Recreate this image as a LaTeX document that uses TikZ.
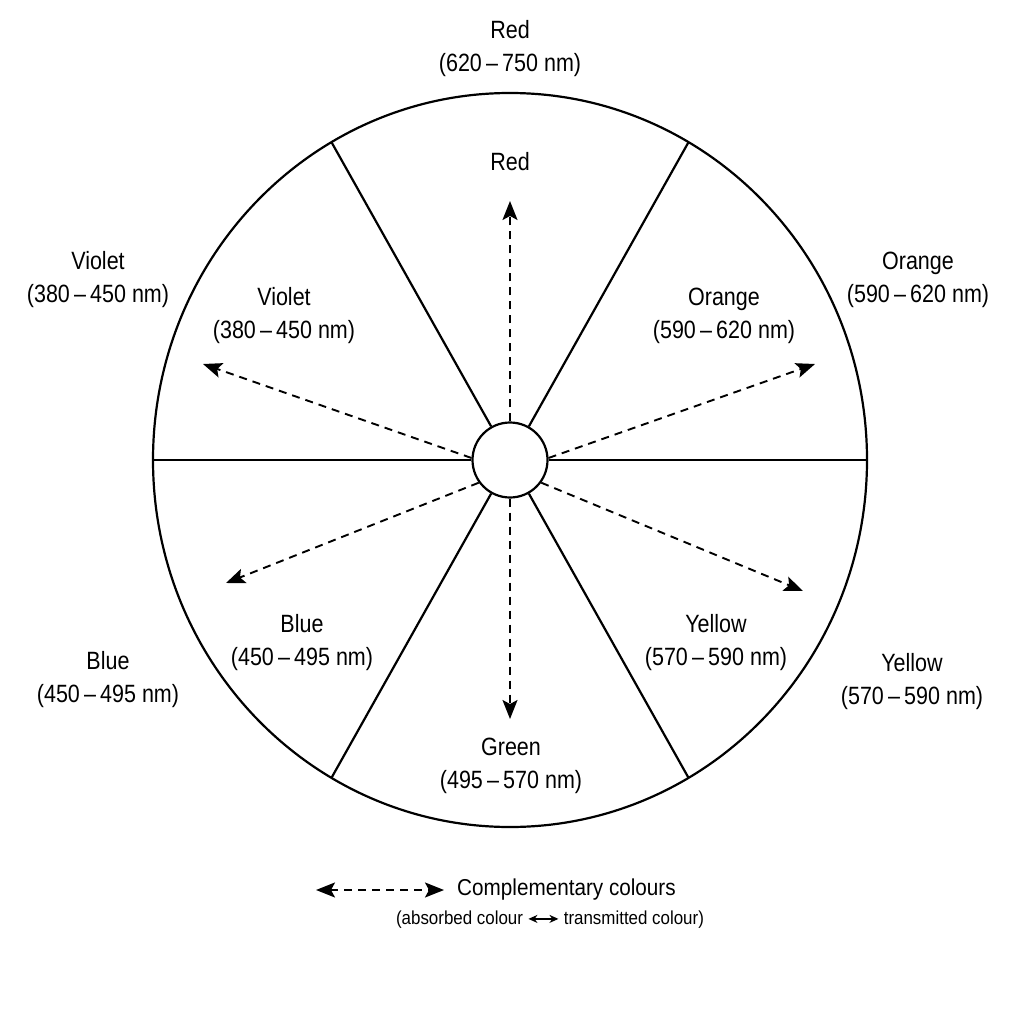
\documentclass[tikz,border=0pt]{standalone}
\usepackage{fontspec}
\setmainfont{Liberation Sans}[FakeStretch=0.86]
\newfontfamily\legendfont{Liberation Sans}[FakeStretch=0.9]
\usetikzlibrary{arrows.meta}
\tikzset{
  solidline/.style={line width=2.2pt, black},
  tipA/.tip={Stealth[length=19pt,width=15pt,inset=4pt]},
  dasharrow/.style={line width=1.9pt, dash pattern=on 8pt off 6pt, -tipA},
  dashboth/.style={line width=1.9pt, dash pattern=on 8pt off 6pt, tipA-tipA},
  lab/.style={align=center, inner sep=0pt, font=\fontsize{25}{33}\selectfont},
}
\begin{document}
\begin{tikzpicture}[x=1pt,y=-1pt]
\useasboundingbox (0,0) rectangle (1024,1024);
\fill[white] (0,0) rectangle (1024,1024);
% outer wheel
\draw[solidline] (510,460) ellipse [x radius=357, y radius=367];
\node[circle, draw, solidline, minimum size=75pt, inner sep=0pt] (hub) at (510,460) {};
\coordinate (o60) at (688.5,142.2);
\coordinate (o120) at (331.5,142.2);
\coordinate (o240) at (331.5,777.8);
\coordinate (o300) at (688.5,777.8);
\coordinate (o0) at (867,460);
\coordinate (o180) at (153,460);
\draw[solidline] (hub) -- (o60);
\draw[solidline] (hub) -- (o120);
\draw[solidline] (hub) -- (o240);
\draw[solidline] (hub) -- (o300);
\draw[solidline] (hub.east) -- (o0);
\draw[solidline] (hub.west) -- (o180);
% complementary arrows
\coordinate (tUp) at (510,201);
\coordinate (tDown) at (510,719);
\coordinate (tUL) at (203,364);
\coordinate (tUR) at (815,364);
\coordinate (tLL) at (226,583);
\coordinate (tLR) at (803,591);
\draw[dasharrow] (hub.north) -- (tUp);
\draw[dasharrow] (hub.south) -- (tDown);
\draw[dasharrow] (hub.177) -- (tUL);
\draw[dasharrow] (hub.3) -- (tUR);
\draw[dasharrow] (hub.216) -- (tLL);
\draw[dasharrow] (hub.324) -- (tLR);
% outer labels
\node[lab] (redO) at (510,49) {Red\\(620\,–\,750 nm)};
\node[lab] (violetO) at (98,280) {Violet\\(380\,–\,450 nm)};
\node[lab] (orangeO) at (918,280) {Orange\\(590\,–\,620 nm)};
\node[lab] (blueO) at (108,680) {Blue\\(450\,–\,495 nm)};
\node[lab] (yellowO) at (912,682) {Yellow\\(570\,–\,590 nm)};
% inner labels
\node[lab] (redI) at (510,162) {Red};
\node[lab] (violetI) at (284,316) {Violet\\(380\,–\,450 nm)};
\node[lab] (orangeI) at (724,316) {Orange\\(590\,–\,620 nm)};
\node[lab] (blueI) at (302,643) {Blue\\(450\,–\,495 nm)};
\node[lab] (yellowI) at (716,643) {Yellow\\(570\,–\,590 nm)};
\node[lab] (greenI) at (511,766) {Green\\(495\,–\,570 nm)};
% legend
\coordinate (lgA) at (316,890);
\coordinate (lgB) at (444,890);
\draw[dashboth] (lgA) -- (lgB);
\node[anchor=west, inner sep=0pt, font=\legendfont\fontsize{23}{24}\selectfont] (lgT) at (457,890) {Complementary colours};
\node[inner sep=0pt, font=\legendfont\fontsize{18.8}{20}\selectfont] (lgS) at (550,920) {(absorbed colour \tikz[baseline=-0.6ex]\draw[line width=1.4pt,{Stealth[length=9pt,width=8pt]}-{Stealth[length=9pt,width=8pt]}] (0,0) -- (30pt,0); transmitted colour)};
\end{tikzpicture}
\end{document}
